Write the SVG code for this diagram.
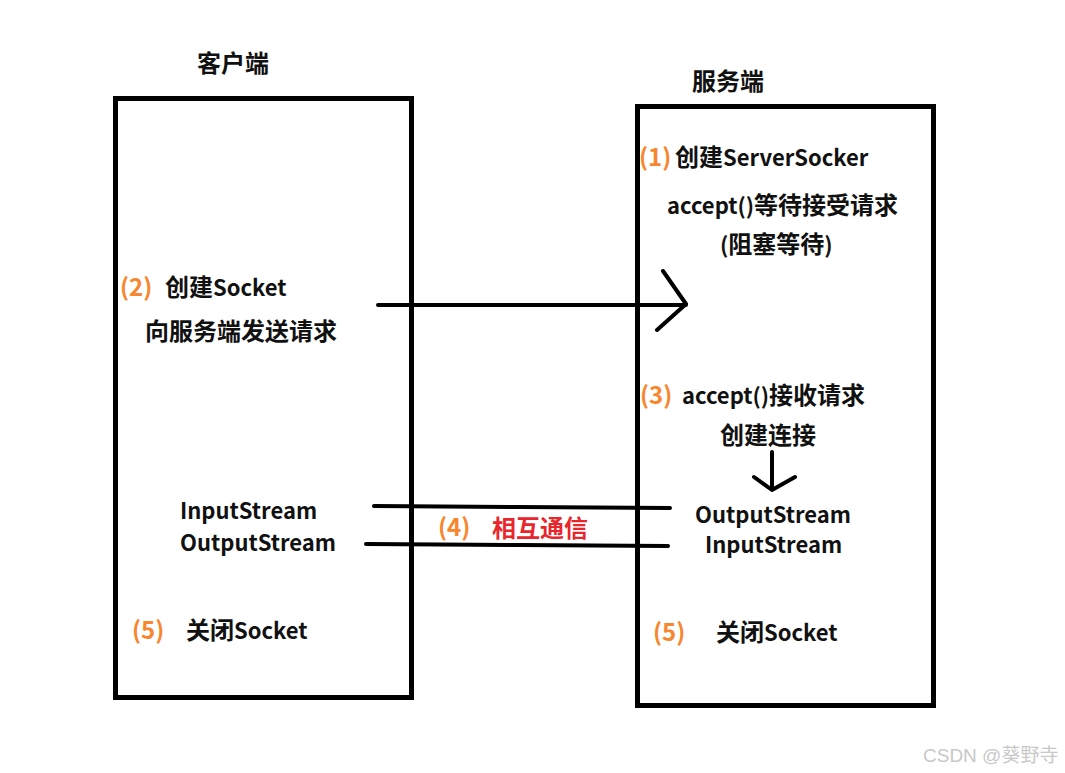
<svg xmlns="http://www.w3.org/2000/svg" width="1065" height="773" viewBox="0 0 1065 773">
<style>
.box{fill:none;stroke:#000;stroke-width:5}
.t{font-family:"Noto Sans CJK SC","Noto Sans",sans-serif;font-weight:bold;font-size:22px;fill:#111}
.c{font-size:24px}
.o{fill:#F7862E;font-size:24px}
.r{fill:#E8262C}
.ln{fill:none;stroke:#000;stroke-width:4;stroke-linecap:round;stroke-linejoin:round}
.wm{font-family:"Liberation Sans","Noto Sans CJK SC",sans-serif;font-size:19px;fill:#c8c8c8}
</style>
<rect width="1065" height="773" fill="#fff"/>
<g id="client">
<rect class="box" x="115.5" y="98.5" width="296" height="599"/>
<text class="t c" x="197" y="72">客户端</text>
<text class="t o" x="120" y="296">(2)</text>
<text class="t" x="165" y="296"><tspan class="c">创建</tspan>Socket</text>
<text class="t c" x="145" y="340">向服务端发送请求</text>
<text class="t" x="180" y="519">InputStream</text>
<text class="t" x="180" y="551">OutputStream</text>
<text class="t o" x="132" y="639">(5)</text>
<text class="t" x="186" y="639"><tspan class="c">关闭</tspan>Socket</text>
</g>
<g id="server">
<rect class="box" x="637.5" y="106.5" width="296" height="599"/>
<text class="t c" x="692" y="90">服务端</text>
<text class="t o" x="639" y="166">(1)</text>
<text class="t" x="675" y="166"><tspan class="c">创建</tspan>ServerSocker</text>
<text class="t" x="667" y="214">accept()<tspan class="c">等待接受请求</tspan></text>
<text class="t" x="720" y="253">(<tspan class="c">阻塞等待</tspan>)</text>
<text class="t o" x="640" y="404">(3)</text>
<text class="t" x="682" y="404">accept()<tspan class="c">接收请求</tspan></text>
<text class="t c" x="720" y="444">创建连接</text>
<text class="t" x="695" y="523">OutputStream</text>
<text class="t" x="705" y="553">InputStream</text>
<text class="t o" x="653" y="641">(5)</text>
<text class="t" x="716" y="641"><tspan class="c">关闭</tspan>Socket</text>
</g>
<g id="connectors">
<path class="ln" d="M378 305 L686 305 M663 271 L686 304 L657 330"/>
<path class="ln" d="M772 452 L772 489 M754 477 L772 490 L795 477"/>
<path class="ln" d="M374 506 L520 507 L670 508"/>
<path class="ln" d="M366 544 L520 545 L668 546"/>
</g>
<g id="label4">
<text class="t o" x="438" y="536">(4)</text>
<text class="t c r" x="492" y="537">相互通信</text>
</g>
<text class="wm" x="923" y="762">CSDN @葵野寺</text>
</svg>
